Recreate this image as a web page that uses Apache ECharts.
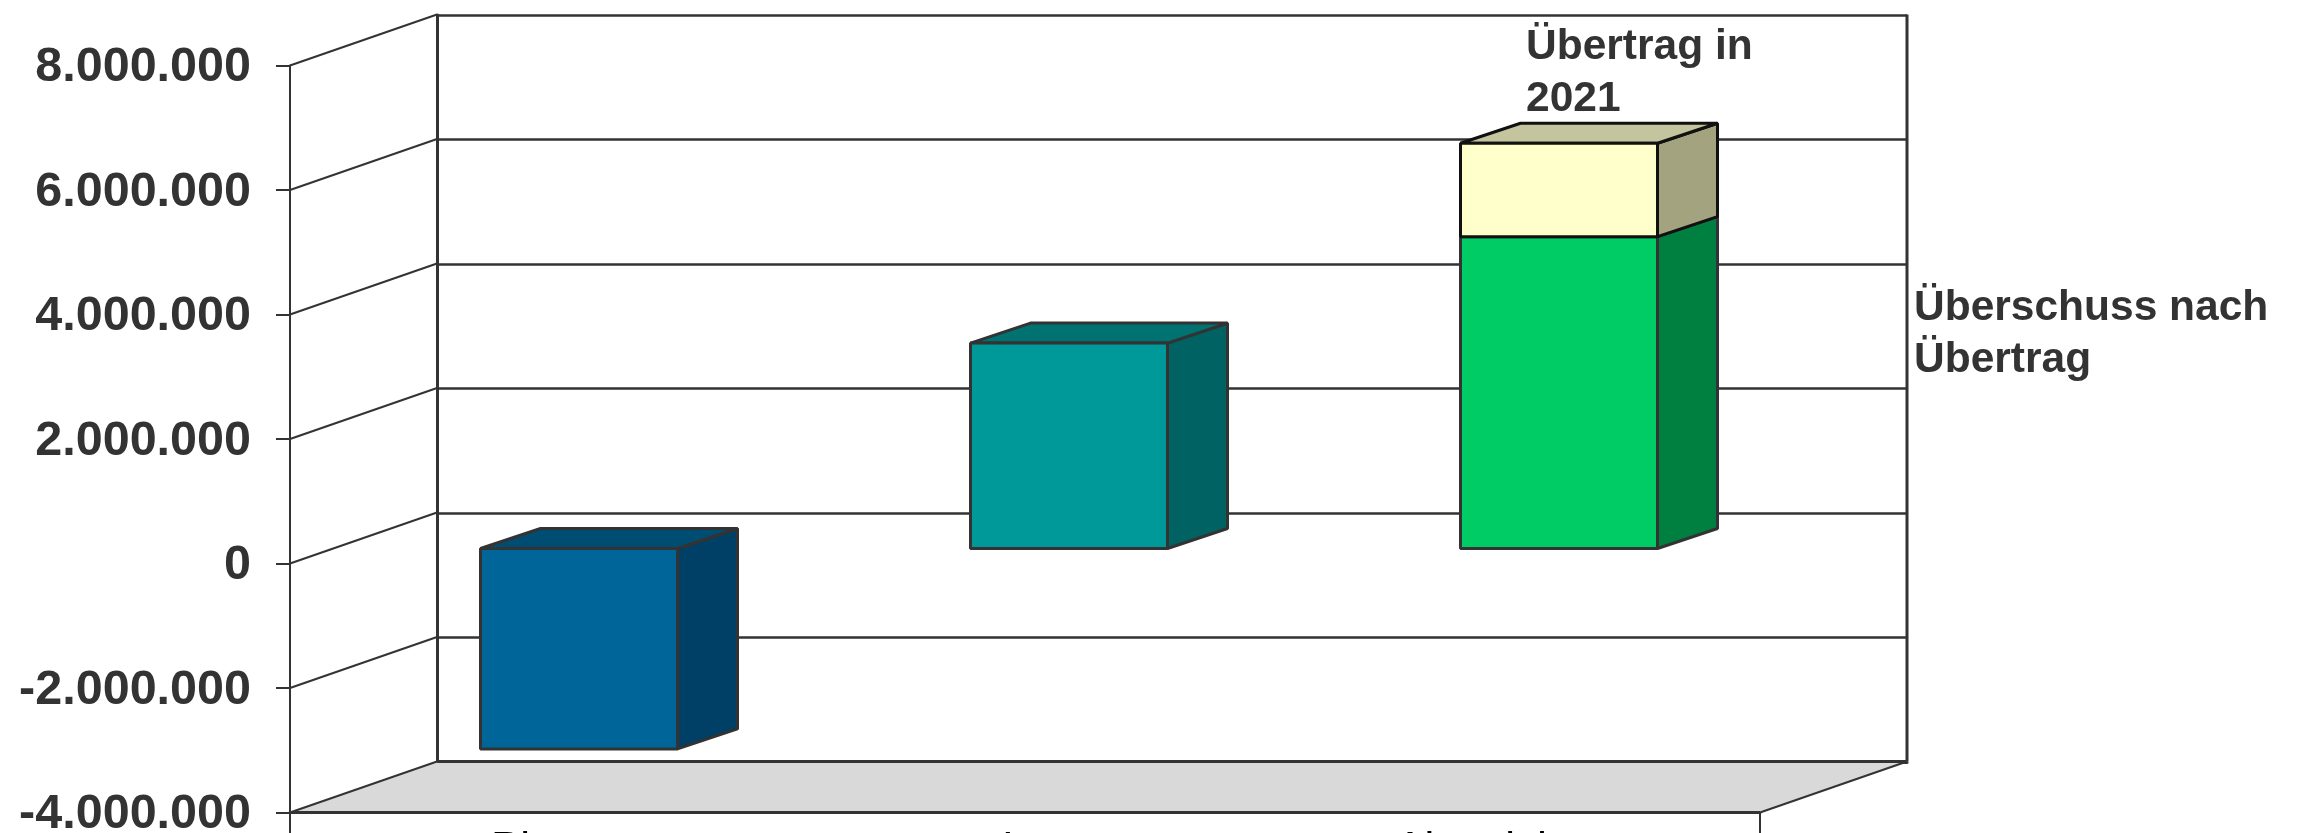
<!DOCTYPE html>
<html>
<head>
<meta charset="utf-8">
<title>Überschuss</title>
<script src="https://cdn.jsdelivr.net/npm/echarts@6/dist/echarts.min.js"></script>
<style>
  html, body { margin: 0; padding: 0; background: #fff; overflow: hidden; }
  #chart { width: 2304px; height: 833px; }
</style>
</head>
<body>
<div id="chart"></div>
<script>
const categories = ['Plan', 'Ist', 'Abweichung']
const tickValues = [-4000000, -2000000, 0, 2000000, 4000000, 6000000, 8000000]
// [start, end] of each visible block, bottom to top
const planBlock = [0, -3220000]
const istBlock = [0, 3300000]
const surplusBlock = [0, 5010000]
const carryBlock = [5010000, 6510000]

const blocks = [
  { cat: 0, range: planBlock, front: '#006699', side: '#003f66', top: '#004d73', line: '#333333' },
  { cat: 1, range: istBlock, front: '#009999', side: '#006262', top: '#007272', line: '#333333' },
  { cat: 2, range: surplusBlock, front: '#00cc66', side: '#008040', top: '#00a050', line: '#333333' },
  { cat: 2, range: carryBlock, front: '#ffffcc', side: '#a3a380', top: '#c4c49e', line: '#111111' }
]

// depth of the fake 3d box in pixels
const wallX = 147
const wallY = -51
const barShiftX = 44
const barShiftY = -15
const barDepthX = 60
const barDepthY = -20
const barWidth = 197

const axisColor = '#333333'
const chart = echarts.init(document.getElementById('chart'))

function poly(points, fill, stroke, w) {
  return {
    type: 'polygon',
    shape: { points: points },
    style: { fill: fill, stroke: stroke, lineWidth: w, lineJoin: 'bevel' }
  }
}

function seg(x1, y1, x2, y2, w) {
  return {
    type: 'line',
    shape: { x1: x1, y1: y1, x2: x2, y2: y2 },
    style: { stroke: axisColor, lineWidth: w }
  }
}

// floor, end ticks and the slanted lines going back to the wall
function renderWall(params, api) {
  const value = api.value(0)
  const p = api.coord([0, value])
  const left = params.coordSys.x
  const right = left + params.coordSys.width
  const children = []
  if (value === tickValues[0]) {
    children.push(poly([
      [left, p[1]], [right, p[1]], [right + wallX, p[1] + wallY], [left + wallX, p[1] + wallY]
    ], '#d9d9d9', 'none', 0))
    children.push(seg(left + wallX, p[1] + wallY, right + wallX, p[1] + wallY, 3))
    children.push(seg(left, p[1], right, p[1], 3))
    children.push(seg(right, p[1], right + wallX, p[1] + wallY, 2))
    children.push(seg(right + wallX, p[1] + wallY, right + wallX, params.coordSys.y + wallY, 3))
    children.push(seg(left, p[1], left, p[1] + 30, 2))
    children.push(seg(right, p[1], right, p[1] + 30, 2))
  }
  children.push(seg(left, p[1], left + wallX, p[1] + wallY, 2))
  return { type: 'group', children: children }
}

function renderBlock(params, api) {
  const b = blocks[params.dataIndex]
  const c = api.coord([b.cat, b.range[1]])
  const c0 = api.coord([b.cat, b.range[0]])
  const x0 = c[0] + barShiftX - barWidth / 2
  const x1 = x0 + barWidth
  const yTop = Math.min(c[1], c0[1]) + barShiftY
  const yBot = Math.max(c[1], c0[1]) + barShiftY
  const dx = barDepthX
  const dy = barDepthY
  const w = 3
  return {
    type: 'group',
    children: [
      poly([[x1, yTop], [x1 + dx, yTop + dy], [x1 + dx, yBot + dy], [x1, yBot]], b.side, b.line, w),
      poly([[x0, yTop], [x0 + dx, yTop + dy], [x1 + dx, yTop + dy], [x1, yTop]], b.top, b.line, w),
      poly([[x0, yTop], [x1, yTop], [x1, yBot], [x0, yBot]], b.front, b.line, w)
    ]
  }
}

chart.setOption({
  animation: false,
  backgroundColor: '#ffffff',
  textStyle: { fontFamily: 'Liberation Sans' },
  grid: [
    { left: 290, top: 65.5, width: 1470, height: 747, outerBoundsMode: 'none' },
    { left: 437, top: 15, width: 1470, height: 747, outerBoundsMode: 'none' }
  ],
  xAxis: [
    {
      type: 'category',
      gridIndex: 0,
      data: categories,
      axisLine: { onZero: false, lineStyle: { color: axisColor, width: 3 } },
      axisTick: { show: false },
      axisLabel: { margin: 16, fontSize: 44, color: '#000000', fontFamily: 'Liberation Sans' }
    },
    {
      type: 'category',
      gridIndex: 1,
      data: categories,
      axisLine: { show: true, onZero: false, lineStyle: { color: axisColor, width: 3 } },
      axisTick: { show: false },
      axisLabel: { show: false }
    }
  ],
  yAxis: [
    {
      type: 'value',
      gridIndex: 0,
      min: -4000000,
      max: 8000000,
      interval: 2000000,
      axisLine: { show: true, lineStyle: { color: axisColor, width: 2 } },
      axisTick: { show: true, length: 14, lineStyle: { color: axisColor, width: 2 } },
      splitLine: { show: false },
      axisLabel: {
        margin: 39,
        formatter: function (v) {
          return '{v|' + String(v).replace(/\B(?=(\d{3})+(?!\d))/g, '.') + '}'
        },
        rich: {
          v: {
            fontSize: 48.5,
            fontWeight: 'bold',
            color: axisColor,
            fontFamily: 'Liberation Sans',
            padding: [5, 0, 0, 0]
          }
        }
      }
    },
    {
      type: 'value',
      gridIndex: 1,
      min: -4000000,
      max: 8000000,
      interval: 2000000,
      axisLine: { show: true, lineStyle: { color: axisColor, width: 3 } },
      axisTick: { show: false },
      axisLabel: { show: false },
      splitLine: { show: true, lineStyle: { color: axisColor, width: 2.5 } }
    }
  ],
  series: [
    {
      type: 'custom',
      xAxisIndex: 0,
      yAxisIndex: 0,
      renderItem: renderWall,
      clip: false,
      z: 1,
      encode: { y: 0 },
      data: tickValues.map(function (v) { return [v] })
    },
    {
      type: 'custom',
      xAxisIndex: 0,
      yAxisIndex: 0,
      renderItem: renderBlock,
      clip: false,
      z: 5,
      data: blocks.map(function (b) { return [b.cat, b.range[1]] })
    }
  ],
  graphic: [
    {
      type: 'text',
      left: 1526,
      top: 21,
      z: 10,
      style: { text: 'Übertrag in\n2021', fontSize: 42.5, lineHeight: 52, fontWeight: 'bold', fill: axisColor, fontFamily: 'Liberation Sans' }
    },
    {
      type: 'text',
      left: 1914,
      top: 282,
      z: 10,
      style: { text: 'Überschuss nach\nÜbertrag', fontSize: 42.5, lineHeight: 52, fontWeight: 'bold', fill: axisColor, fontFamily: 'Liberation Sans' }
    }
  ]
})
</script>
</body>
</html>
